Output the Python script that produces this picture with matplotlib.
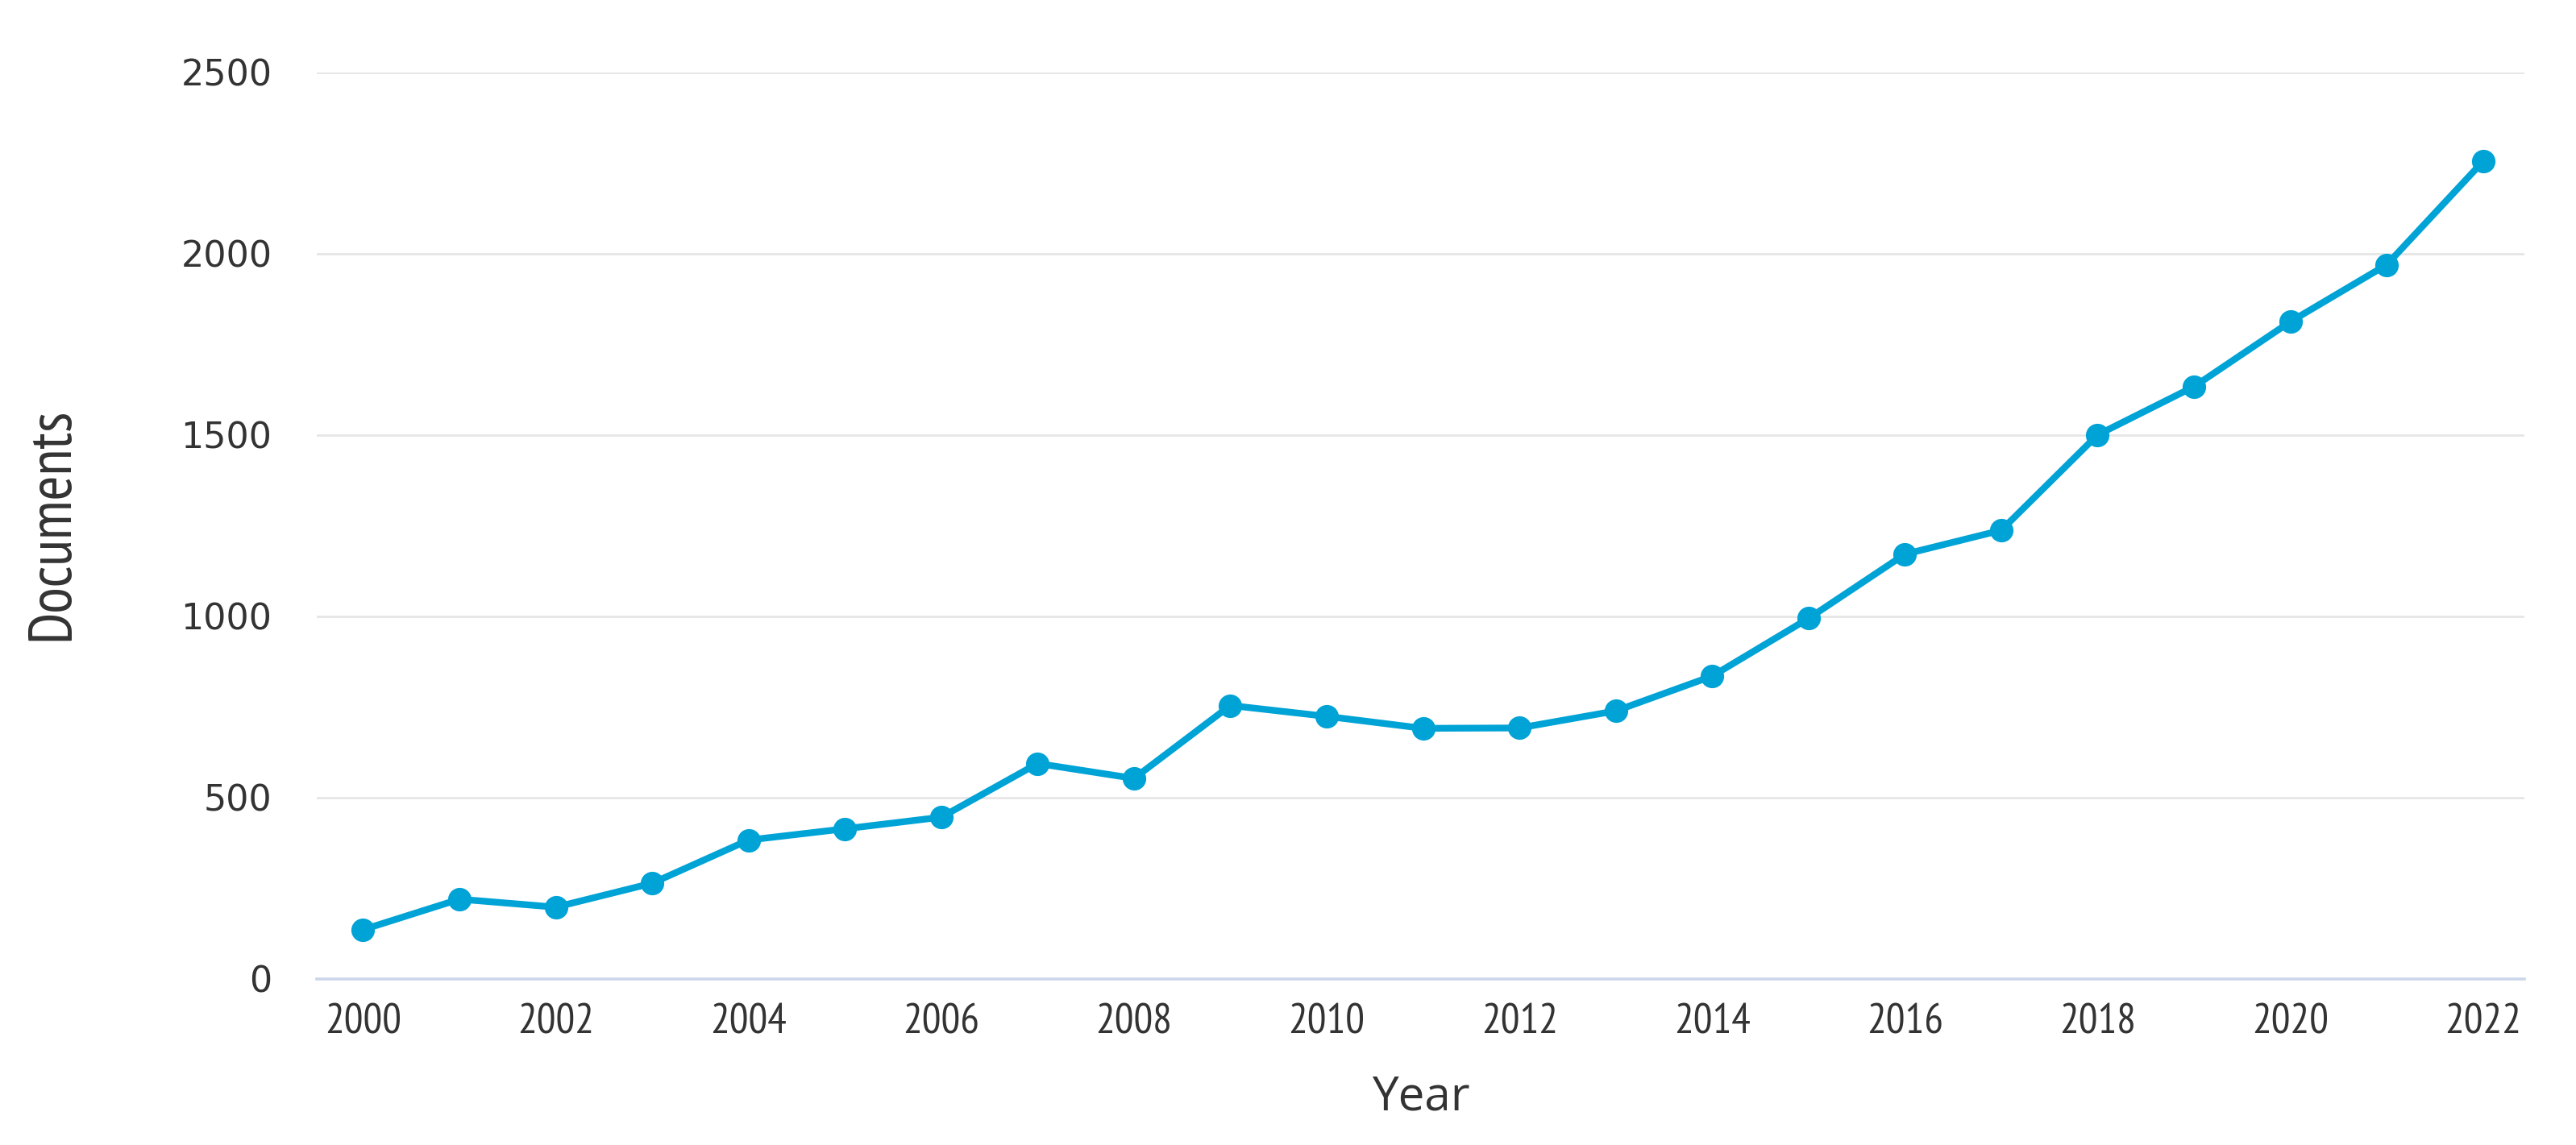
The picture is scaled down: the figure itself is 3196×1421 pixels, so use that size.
import matplotlib
matplotlib.use("Agg")
import matplotlib.pyplot as plt

years = list(range(2000, 2023))
documents = [136, 220, 198, 264, 383, 414, 446, 594, 553, 754, 724, 691,
             692, 739, 835, 994, 1171, 1237, 1500, 1633, 1812, 1969, 2254]
x_ticks = list(range(2000, 2023, 2))
y_ticks = [0, 500, 1000, 1500, 2000, 2500]

line_color = "#00a3d6"
text_color = "#333333"
narrow = ["PT Sans Narrow", "DejaVu Sans"]

fig = plt.figure(figsize=(15.98, 7.105), dpi=200)
ax = fig.add_axes([0.123, 0.145, 0.857, 0.792])

ax.plot(years, documents, color=line_color, linewidth=3.0,
        marker="o", markersize=9.5, zorder=3)

ax.set_xlim(1999.52, 2022.43)
ax.set_ylim(0, 2500)
ax.set_xticks(x_ticks)
ax.set_yticks(y_ticks)

ax.grid(axis="y", color="#e6e6e6", linewidth=1.0)
ax.set_axisbelow(True)
for side in ["top", "right", "left"]:
    ax.spines[side].set_visible(False)
ax.spines["bottom"].set_color("#ccd6eb")
ax.spines["bottom"].set_linewidth(1.3)

ax.tick_params(axis="both", length=0, colors=text_color)
ax.tick_params(axis="y", pad=20, labelsize=16)
ax.tick_params(axis="x", pad=11)
for lbl in ax.get_xticklabels():
    lbl.set_fontfamily(narrow)
    lbl.set_fontweight("normal")
    lbl.set_fontsize(19)

ax.set_xlabel("Year", fontsize=21, family=["Open Sans", "DejaVu Sans"],
              color=text_color)
ax.set_ylabel("Documents", fontsize=27, family=narrow, fontweight="normal",
              color=text_color)
ax.xaxis.set_label_coords(0.5, -0.105)
ax.yaxis.set_label_coords(-0.107, 0.502)

fig.savefig("out.png", dpi=200, facecolor="white")
